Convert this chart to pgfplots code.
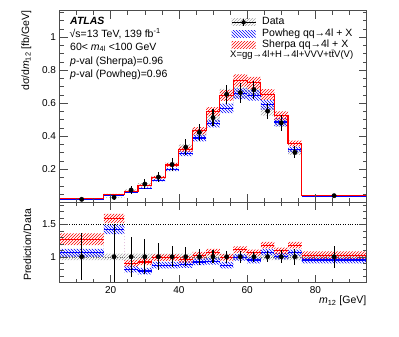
\documentclass[border=0pt]{standalone}
\usepackage{fontspec}
\setmainfont{Liberation Sans}
\usepackage{pgfplots}
\usepackage{pgfplotstable}
\pgfplotsset{compat=1.18}
\usepgfplotslibrary{fillbetween}
\usetikzlibrary{patterns}

\definecolor{rootred}{RGB}{255,0,0}
\definecolor{rootblue}{RGB}{0,0,255}

% bin left edges; last row repeats the last bin at the right edge
\pgfplotstableread{
xl  D      S      P      rS    rP    uS    uP    uD
5   0.018  0.0229 0.0190 1.27  1.06  0.09  0.06  0.05
18  0.030  0.048  0.043  1.59  1.42  0.07  0.07  0.05
24  0.074  0.067  0.060  0.90  0.81  0.05  0.05  0.05
28  0.1105 0.102  0.086  0.92  0.78  0.05  0.05  0.05
32  0.153  0.151  0.133  0.985 0.87  0.05  0.05  0.05
36  0.229  0.226  0.199  0.985 0.87  0.05  0.05  0.05
40  0.334  0.321  0.294  0.96  0.88  0.05  0.05  0.05
44  0.423  0.433  0.389  1.025 0.92  0.05  0.05  0.05
48  0.513  0.549  0.477  1.07  0.93  0.05  0.05  0.05
52  0.654  0.647  0.569  0.99  0.87  0.05  0.05  0.05
56  0.664  0.737  0.657  1.11  0.99  0.05  0.05  0.05
60  0.682  0.723  0.648  1.06  0.95  0.05  0.05  0.05
64  0.5525 0.652  0.591  1.18  1.07  0.05  0.05  0.05
68  0.481  0.524  0.486  1.09  1.01  0.05  0.05  0.05
72  0.302  0.356  0.320  1.18  1.06  0.05  0.05  0.05
76  0.040  0.041  0.038  1.025 0.95  0.06  0.05  0.05
95  0.040  0.041  0.038  1.025 0.95  0.06  0.05  0.05
}\bins

% data points: centre, value, abs. error, ratio error
\pgfplotstableread{
xc   D      eU     eR
11.5 0.018  0.0065 0.36
21   0.030  0.015  0.50
26   0.074  0.023  0.31
30   0.1105 0.030  0.27
34   0.153  0.032  0.21
38   0.229  0.037  0.16
42   0.334  0.050  0.15
46   0.423  0.051  0.12
50   0.513  0.051  0.10
54   0.654  0.059  0.09
58   0.664  0.060  0.09
62   0.682  0.055  0.08
66   0.5525 0.047  0.085
70   0.481  0.048  0.10
74   0.302  0.036  0.12
85.5 0.040  0.007  0.17
}\pts

\pgfplotsset{
  panel/.style={
    scale only axis, width=307pt, xmin=5, xmax=95,
    axis line style={black!70, line width=0.6pt},
    every tick/.style={black!70, line width=0.5pt},
    major tick length=8pt, minor tick length=4pt,
    xtick={20,40,60,80}, minor xtick={5,10,...,95},
    ticklabel style={font=\fontsize{10}{12}\selectfont},
    /pgf/number format/assume math mode=true,
    no marks, axis on top,
  },
  dpts/.style={black, only marks, mark=*, mark size=2.2pt, forget plot,
    error bars/.cd, y dir=both, y explicit, error mark=none,
    error bar style={line width=1.1pt, black}},
}

\begin{document}
\begin{tikzpicture}
\path (0pt,0pt) rectangle (399pt,-337pt);

\begin{axis}[panel, at={(59.5pt,-202.3pt)}, anchor=south west, height=191.6pt,
  ymin=0, ymax=1.16, ytick={0.2,0.4,0.6,0.8,1},
  minor ytick={0.05,0.1,0.15,0.25,0.3,0.35,0.45,0.5,0.55,0.65,0.7,0.75,0.85,0.9,0.95,1.05,1.1,1.15},
  xticklabels={},
  legend cell align=left,
  legend style={at={(0.5586,0.9697)}, anchor=north west, draw=none, fill=none,
    inner sep=0pt, row sep=0pt, font=\fontsize{10.5}{12}\selectfont,
    nodes={inner sep=0pt, text height=8pt, text depth=3.3pt},
    /tikz/every odd column/.append style={column sep=6pt}},
]
\addplot[name path=dHi, draw=none, const plot, forget plot] table[x=xl, y expr=\thisrow{D}*(1+\thisrow{uD})]{\bins};
\addplot[name path=dLo, draw=none, const plot, forget plot] table[x=xl, y expr=\thisrow{D}*(1-\thisrow{uD})]{\bins};
\addplot[pattern=north east lines, pattern color=gray!70, draw=none, forget plot] fill between[of=dHi and dLo];

\addplot[name path=pHi, draw=none, const plot, forget plot] table[x=xl, y expr=\thisrow{P}*(1+\thisrow{uP})]{\bins};
\addplot[name path=pLo, draw=none, const plot, forget plot] table[x=xl, y expr=\thisrow{P}*(1-\thisrow{uP})]{\bins};
\addplot[pattern=north west lines, pattern color=rootblue, draw=none, forget plot] fill between[of=pHi and pLo];

\addplot[name path=sHi, draw=none, const plot, forget plot] table[x=xl, y expr=\thisrow{S}*(1+\thisrow{uS})]{\bins};
\addplot[name path=sLo, draw=none, const plot, forget plot] table[x=xl, y expr=\thisrow{S}*(1-\thisrow{uS})]{\bins};
\addplot[pattern=north east lines, pattern color=rootred, draw=none, forget plot] fill between[of=sHi and sLo];

\addplot[rootblue, line width=1.1pt, jump mark left, forget plot] table[x=xl, y=P]{\bins};
\addplot[rootred, line width=1.1pt, const plot, forget plot] table[x=xl, y=S]{\bins};
\addplot[dpts] table[x=xc, y=D, y error=eU]{\pts};

\addlegendimage{legend image code/.code={
  \fill[draw=none, pattern=north east lines, pattern color=gray!70] (0pt,-3.5pt) rectangle (24pt,3.5pt);
  \draw[black, line width=1pt] (0pt,0pt) -- (24pt,0pt);
  \draw[black, line width=1pt] (12pt,-3.5pt) -- (12pt,3.5pt);
  \fill[draw=none, black] (12pt,0pt) circle (2.2pt);}}
\addlegendentry{Data}
\addlegendimage{legend image code/.code={
  \fill[draw=none, pattern=north west lines, pattern color=rootblue] (0pt,-3.5pt) rectangle (24pt,3.5pt);}}
\addlegendentry{Powheg qq→4l + X}
\addlegendimage{legend image code/.code={
  \fill[draw=none, pattern=north east lines, pattern color=rootred] (0pt,-3.5pt) rectangle (24pt,3.5pt);}}
\addlegendentry{Sherpa qq→4l + X}
\end{axis}

\begin{axis}[panel, at={(59.5pt,-282.7pt)}, anchor=south west, height=80.4pt,
  ymin=0.6, ymax=1.84, ytick={1,1.5},
  minor ytick={0.6,0.7,0.8,0.9,1.1,1.2,1.3,1.4,1.6,1.7,1.8},
]
\addplot[black, dotted, forget plot] coordinates {(5,1.5) (95,1.5)};
\addplot[black!60, dotted, forget plot] coordinates {(5,1) (95,1)};

\addplot[name path=rdHi, draw=none, const plot, forget plot] table[x=xl, y expr=1+\thisrow{uD}]{\bins};
\addplot[name path=rdLo, draw=none, const plot, forget plot] table[x=xl, y expr=1-\thisrow{uD}]{\bins};
\addplot[pattern=north east lines, pattern color=gray!70, draw=none, forget plot] fill between[of=rdHi and rdLo];

\addplot[name path=rpHi, draw=none, const plot, forget plot] table[x=xl, y expr=\thisrow{rP}+\thisrow{uP}]{\bins};
\addplot[name path=rpLo, draw=none, const plot, forget plot] table[x=xl, y expr=\thisrow{rP}-\thisrow{uP}]{\bins};
\addplot[pattern=north west lines, pattern color=rootblue, draw=none, forget plot] fill between[of=rpHi and rpLo];

\addplot[name path=rsHi, draw=none, const plot, forget plot] table[x=xl, y expr=\thisrow{rS}+\thisrow{uS}]{\bins};
\addplot[name path=rsLo, draw=none, const plot, forget plot] table[x=xl, y expr=\thisrow{rS}-\thisrow{uS}]{\bins};
\addplot[pattern=north east lines, pattern color=rootred, draw=none, forget plot] fill between[of=rsHi and rsLo];

\addplot[rootblue, line width=1.1pt, jump mark left, forget plot] table[x=xl, y=rP]{\bins};
\addplot[rootred, line width=1.1pt, jump mark left, forget plot] table[x=xl, y=rS]{\bins};
\addplot[dpts] table[x=xc, y expr=1, y error=eR]{\pts};
\end{axis}

% texts
\begin{scope}[every node/.style={inner sep=0pt, anchor=base west, font=\fontsize{10.5}{12}\selectfont}]
\node at (70pt,-25pt) {\bfseries\itshape ATLAS};
\node at (69.5pt,-37.3pt) {√s=13 TeV, 139 fb\textsuperscript{-1}};
\node at (70pt,-50.2pt) {60< {\itshape m}\textsubscript{4l} <100 GeV};
\node at (70pt,-64.5pt) {{\itshape p}-val (Sherpa)=0.96};
\node at (70pt,-77.8pt) {{\itshape p}-val (Powheg)=0.96};
\node[font=\fontsize{9.5}{11}\selectfont] at (230pt,-58pt) {X=gg→4l+H→4l+VVV+t\={t}V(V)};
\end{scope}
\node[rotate=90, anchor=base east, inner sep=0pt, font=\fontsize{10.5}{12}\selectfont] at (29pt,-10.7pt) {dσ/d{\itshape m}\textsubscript{12} [fb/GeV]};
\node[rotate=90, anchor=base, inner sep=0pt, font=\fontsize{10.5}{12}\selectfont] at (31pt,-245pt) {Prediction/Data};
\node[anchor=base east, inner sep=0pt, font=\fontsize{10.5}{12}\selectfont] at (366.5pt,-303.5pt) {{\itshape m}\textsubscript{12} [GeV]};
\end{tikzpicture}
\end{document}
